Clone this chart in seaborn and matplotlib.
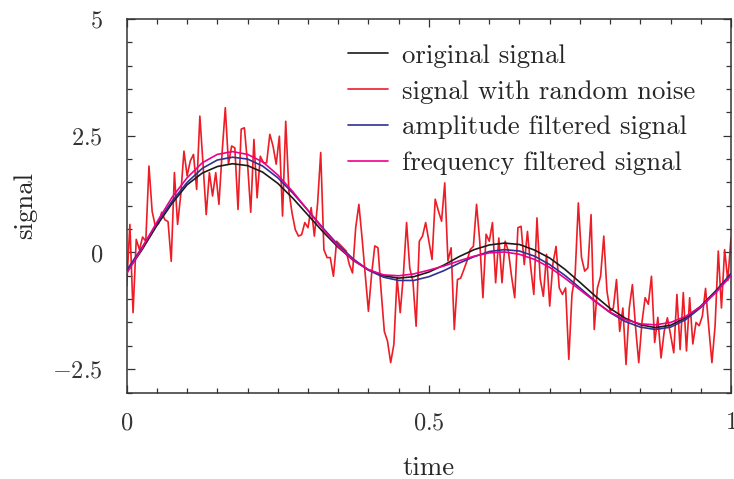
import numpy as np
import pandas as pd
import matplotlib
matplotlib.use("Agg")
import matplotlib.pyplot as plt
import seaborn as sns
from matplotlib.ticker import MultipleLocator

# Noisy samples (evenly spaced over the time axis)
noise = [-0.72, 0.60, -1.29, 0.28, 0.06, 0.33, 0.24, 1.85, 0.88, 0.56,
         0.62, 0.86, 0.70, 0.66, -0.19, 1.71, 0.60, 1.24, 2.17, 1.64,
         1.96, 2.10, 1.35, 2.92, 1.89, 0.81, 1.71, 1.21, 1.71, 1.03,
         2.14, 3.10, 1.89, 2.28, 2.24, 0.92, 2.64, 2.67, 1.90, 0.86,
         2.42, 1.17, 2.06, 1.92, 1.92, 2.53, 2.28, 1.89, 2.49, 0.78,
         2.81, 1.31, 0.84, 0.49, 0.35, 0.38, 0.64, 0.53, 0.96, 0.35,
         1.03, 2.14, 0.06, -0.11, -0.11, -0.51, 0.24, 0.17, 0.10, 0.03,
         -0.26, -0.44, 0.53, 1.03, 0.31, -0.47, -1.26, -0.47, 0.14, 0.10,
         -0.83, -1.69, -1.90, -2.36, -1.97, -0.54, -1.29, -0.47, 0.64, -0.34,
         -0.62, -1.58, 0.24, 0.35, 0.64, 0.24, -0.15, 1.14, 0.89, 0.67,
         1.49, -0.18, 0.10, -1.65, -0.58, -0.55, -0.37, -0.18, 0.06, 0.13,
         1.03, 0.24, -0.97, 0.39, 0.24, 0.64, -0.65, 0.31, -0.65, 0.24,
         0.03, -0.51, -0.97, 0.53, 0.56, -0.26, 0.45, -0.30, -0.90, 0.74,
         -0.56, -0.94, -0.04, -1.15, -0.24, 0.13, -0.76, -0.90, -0.76, -2.29,
         -0.90, -0.47, 1.06, -0.11, -0.40, -0.33, 0.81, -1.65, -0.76, -0.51,
         0.35, -0.83, -1.26, -1.19, -0.58, -1.69, -1.19, -2.40, -1.20, -0.69,
         -1.61, -2.36, -1.50, -0.97, -1.11, -0.51, -1.93, -1.39, -2.26, -1.69,
         -1.40, -1.76, -2.15, -0.90, -2.08, -0.86, -2.11, -0.97, -1.96, -1.50,
         -1.57, -1.36, -0.77, -1.60, -2.36, -1.57, 0.03, -1.19, 0.06, -0.60,
         0.31]

# Smooth curves sampled every 0.025 in time
original = [-0.42, 0.05, 0.58, 1.05, 1.45, 1.70, 1.84, 1.90, 1.86, 1.72,
            1.48, 1.16, 0.80, 0.44, 0.11, -0.17, -0.37, -0.50, -0.55, -0.52,
            -0.42, -0.27, -0.09, 0.06, 0.16, 0.20, 0.17, 0.05, -0.12, -0.36,
            -0.64, -0.93, -1.20, -1.41, -1.55, -1.61, -1.56, -1.40, -1.15, -0.82,
            -0.46]
amplitude = [-0.38, 0.10, 0.62, 1.10, 1.50, 1.80, 1.98, 2.04, 2.00, 1.85,
             1.60, 1.27, 0.90, 0.52, 0.16, -0.14, -0.38, -0.53, -0.60, -0.60,
             -0.52, -0.39, -0.23, -0.09, 0.02, 0.06, 0.03, -0.08, -0.26, -0.49,
             -0.76, -1.04, -1.29, -1.48, -1.60, -1.65, -1.60, -1.44, -1.18, -0.84,
             -0.45]
frequency = [-0.45, 0.08, 0.65, 1.18, 1.60, 1.92, 2.10, 2.16, 2.10, 1.94,
             1.66, 1.30, 0.90, 0.50, 0.13, -0.17, -0.37, -0.48, -0.50, -0.46,
             -0.38, -0.29, -0.18, -0.08, -0.01, 0.01, -0.04, -0.15, -0.32, -0.55,
             -0.80, -1.05, -1.28, -1.44, -1.53, -1.55, -1.50, -1.37, -1.16, -0.86,
             -0.50]

t_noise = np.linspace(0, 1, len(noise))
t_smooth = np.linspace(0, 1, len(original))

labels = ["original signal", "signal with random noise",
          "amplitude filtered signal", "frequency filtered signal"]
colors = ["#1a1a1a", "#ee1c25", "#2e3192", "#ec008c"]

xticks = [0, 0.5, 1]
xticklabels = [r"$0$", r"$0.5$", r"$1$"]
yticks = [-2.5, 0, 2.5, 5]
yticklabels = [r"$-2.5$", r"$0$", r"$2.5$", r"$5$"]

sns.set_theme(style="ticks")
plt.rcParams.update({
    "font.family": ["cmr10", "DejaVu Serif"],
    "mathtext.fontset": "cm",
    "axes.unicode_minus": False,
    "text.color": "#262626",
    "axes.labelcolor": "#262626",
    "xtick.color": "#333333",
    "ytick.color": "#333333",
    "axes.edgecolor": "#333333",
})

TEXT_SIZE = 19.3
TICK_SIZE = 17.5

W, H = 734, 479
fig = plt.figure(figsize=(W / 100, H / 100), dpi=100)
left, right, top, bottom = 126.7, 731.0, 19.0, 392.5
ax = fig.add_axes([left / W, 1 - bottom / H, (right - left) / W, (bottom - top) / H])

sns.lineplot(x=t_smooth, y=original, ax=ax, color=colors[0], lw=1.2,
             label=labels[0], zorder=3)
sns.lineplot(x=t_noise, y=noise, ax=ax, color=colors[1], lw=1.2,
             label=labels[1], zorder=2)
sns.lineplot(x=t_smooth, y=amplitude, ax=ax, color=colors[2], lw=1.2,
             label=labels[2], zorder=4)
sns.lineplot(x=t_smooth, y=frequency, ax=ax, color=colors[3], lw=1.2,
             label=labels[3], zorder=5)

ax.set_xlim(0, 1)
ax.set_ylim(-3, 5)
ax.set_xticks(xticks)
ax.set_xticklabels(xticklabels)
ax.set_yticks(yticks)
ax.set_yticklabels(yticklabels)
ax.xaxis.set_minor_locator(MultipleLocator(0.05))
ax.yaxis.set_minor_locator(MultipleLocator(0.5))
for s in ax.spines.values():
    s.set_visible(True)
    s.set_linewidth(1.1)
ax.tick_params(which="both", direction="in", top=True, right=True, width=0.9)
ax.tick_params(which="major", length=6)
ax.tick_params(which="minor", length=3.6)
ax.tick_params(axis="x", which="major", pad=14, labelsize=TICK_SIZE)
ax.tick_params(axis="y", which="major", pad=17, labelsize=TICK_SIZE)

ax.set_xlabel("time", fontsize=TEXT_SIZE, labelpad=16)
ax.set_ylabel("signal", fontsize=TEXT_SIZE, labelpad=11)

leg = ax.legend(loc="upper left", bbox_to_anchor=(348 / W, 1 - 44 / H),
                bbox_transform=fig.transFigure, frameon=False, fontsize=TEXT_SIZE,
                handlelength=1.5, handletextpad=0.5, labelspacing=0.45,
                borderpad=0, borderaxespad=0)
for line in leg.get_lines():
    line.set_linewidth(1.2)

fig.savefig("out.png", dpi=100)
